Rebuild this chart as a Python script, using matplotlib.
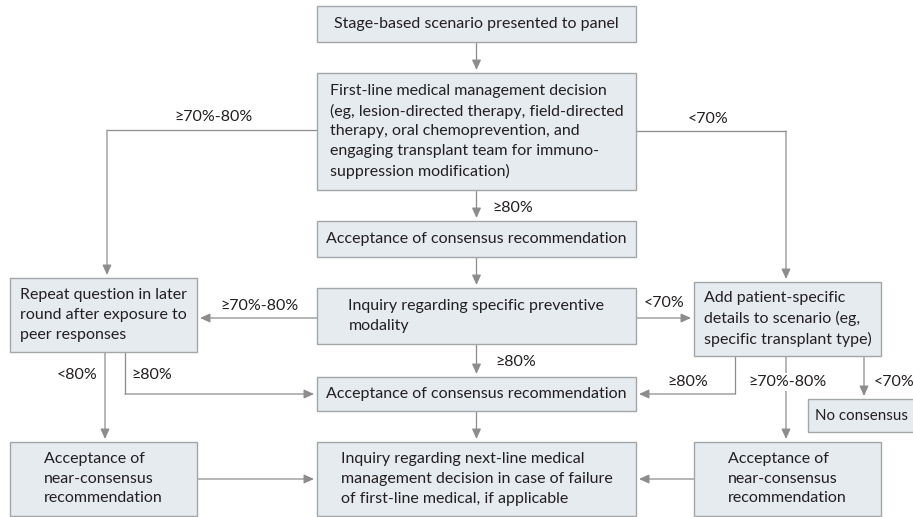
import matplotlib
matplotlib.use("Agg")
import matplotlib.pyplot as plt
from matplotlib.patches import Rectangle

plt.rcParams['font.family'] = ['Lato', 'DejaVu Sans']

# ---- content (node texts and edge labels) ----
node_texts = {
    "start": "Stage-based scenario presented to panel",
    "first": "First-line medical management decision\n(eg, lesion-directed therapy, field-directed\ntherapy, oral chemoprevention, and\nengaging transplant team for immuno-\nsuppression modification)",
    "acc1": "Acceptance of consensus recommendation",
    "repeat": "Repeat question in later\nround after exposure to\npeer responses",
    "inquiry": "Inquiry regarding specific preventive\nmodality",
    "add": "Add patient-specific\ndetails to scenario (eg,\nspecific transplant type)",
    "acc2": "Acceptance of consensus recommendation",
    "nocons": "No consensus",
    "near_left": "Acceptance of\nnear-consensus\nrecommendation",
    "next": "Inquiry regarding next-line medical\nmanagement decision in case of failure\nof first-line medical, if applicable",
    "near_right": "Acceptance of\nnear-consensus\nrecommendation",
}
edge_labels = ["≥70%-80%", "<70%", "≥80%", "≥70%-80%", "<70%", "≥80%",
               "<80%", "≥80%", "≥80%", "≥70%-80%", "<70%"]

# ---- layout (pixel coordinates: x0, y0, x1, y1) ----
boxes = {
    "start": (317, 6, 636, 42),
    "first": (317, 73, 636, 190),
    "acc1": (317, 221, 636, 257),
    "repeat": (10, 278, 197, 352),
    "inquiry": (317, 288, 636, 344),
    "add": (694, 282, 881, 356),
    "acc2": (317, 377, 636, 411),
    "nocons": (808, 399, 940, 432),
    "near_left": (10, 442, 197, 516),
    "next": (317, 442, 636, 516),
    "near_right": (694, 442, 881, 516),
}
text_override = {"nocons": (815, 'left')}

G = 3  # gap between arrow tip and box
paths = [
    [(476.5, 42), (476.5, 73 - G)],
    [(317, 130), (107, 130), (107, 278 - G)],
    [(636, 131), (786, 131), (786, 282 - G)],
    [(476.5, 190), (476.5, 221 - G)],
    [(476.5, 257), (476.5, 288 - G)],
    [(317, 318), (197 + G, 318)],
    [(636, 318), (694 - G, 318)],
    [(476.5, 344), (476.5, 377 - G)],
    [(105, 352), (105, 442 - G)],
    [(125, 352), (125, 394), (317 - G, 394)],
    [(735, 356), (735, 394), (636 + G, 394)],
    [(786, 356), (786, 442 - G)],
    [(864, 356), (864, 399 - G)],
    [(476.5, 411), (476.5, 442 - G)],
    [(197, 479), (317 - G, 479)],
    [(694, 479), (636 + G, 479)],
]

label_pos = [
    (213, 117, 'center'), (708, 119, 'center'), (513, 208, 'center'),
    (259, 306, 'center'), (664, 303, 'center'), (516, 362, 'center'),
    (77, 375, 'center'), (152, 375, 'center'), (688, 382, 'center'),
    (787, 382, 'center'), (874, 382, 'left'),
]

W, H = 913, 517
fig = plt.figure(figsize=(W / 100, H / 100), dpi=100)
ax = fig.add_axes([0, 0, 1, 1])
ax.set_xlim(0, W)
ax.set_ylim(H, 0)
ax.axis('off')

FILL = '#e6ebf0'
EDGE = '#a3a6a8'
LINE = '#8c8c8c'
TXT = '#231f20'
FS = 11.5

for key, (x0, y0, x1, y1) in boxes.items():
    ax.add_patch(Rectangle((x0, y0), x1 - x0, y1 - y0, facecolor=FILL,
                           edgecolor=EDGE, lw=1.0, zorder=2))
    if key in text_override:
        tx, ha = text_override[key]
        ax.text(tx, (y0 + y1) / 2, node_texts[key], ha=ha, va='center',
                fontsize=FS - 0.6, color=TXT, zorder=3)
        continue
    ax.text((x0 + x1) / 2, (y0 + y1) / 2, node_texts[key], ha='center',
            va='center', multialignment='left', fontsize=FS, color=TXT,
            linespacing=1.5, zorder=3)

for p in paths:
    xs = [q[0] for q in p[:-1]]
    ys = [q[1] for q in p[:-1]]
    if len(p) > 2:
        ax.plot(xs, ys, color=LINE, lw=0.9, solid_capstyle='butt', zorder=1)
    ax.annotate('', xy=p[-1], xytext=p[-2],
                arrowprops=dict(arrowstyle='-|>,head_length=0.6,head_width=0.27',
                                color=LINE, lw=0.9, mutation_scale=10,
                                shrinkA=0, shrinkB=0), zorder=1)

for lab, (x, y, ha) in zip(edge_labels, label_pos):
    bbox = None
    if lab == "≥70%-80%" and x > 700:
        bbox = dict(facecolor='white', edgecolor='none', pad=1.5)
    ax.text(x, y, lab, ha=ha, va='center', fontsize=FS, color=TXT,
            bbox=bbox, zorder=4)

fig.savefig('out.png', dpi=100, facecolor='white')
